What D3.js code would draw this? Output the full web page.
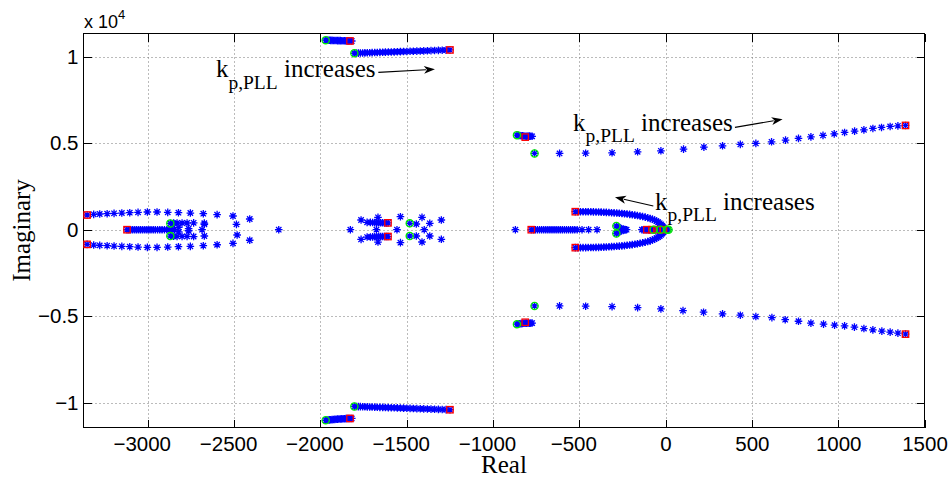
<!DOCTYPE html>
<html><head><meta charset="utf-8">
<script src="https://cdn.jsdelivr.net/npm/d3@7"></script>
<style>body{margin:0;background:#fff} svg{display:block}</style>
</head><body><svg id="chart" width="951" height="482"></svg>
<script>
// ---------- DATA (real, imaginary) ----------
const xTicks = [-3000,-2500,-2000,-1500,-1000,-500,0,500,1000,1500];
const yTicks = [-10000,-5000,0,5000,10000];
const yTickLabels = ["\u22121","\u22120.5","0","0.5","1"];

const blueTopCluster = [[-1969,10950],[-1962,10947],[-1955,10944],[-1948,10941],[-1940,10938],[-1932,10935],[-1924,10933],[-1916,10930],[-1908,10928],[-1900,10925],[-1892,10922],[-1884,10920],[-1876,10917],[-1868,10914],[-1860,10912],[-1852,10909],[-1844,10907],[-1836,10904],[-1828,10903],[-1818,10902]];
const blueBottomCluster = [[-1969,-11010],[-1962,-11002],[-1955,-10995],[-1948,-10988],[-1940,-10980],[-1932,-10972],[-1924,-10965],[-1916,-10958],[-1908,-10952],[-1900,-10946],[-1892,-10940],[-1884,-10934],[-1876,-10929],[-1868,-10924],[-1860,-10919],[-1852,-10915],[-1844,-10911],[-1836,-10908],[-1828,-10905],[-1818,-10903]];
const blueTopBranch = [[-1803,10194],[-1792,10198],[-1780,10202],[-1768,10206],[-1755,10210],[-1742,10215],[-1728,10220],[-1714,10225],[-1700,10229],[-1685,10234],[-1670,10240],[-1655,10245],[-1639,10250],[-1623,10256],[-1606,10262],[-1589,10267],[-1572,10273],[-1554,10279],[-1536,10286],[-1518,10292],[-1499,10298],[-1480,10305],[-1461,10311],[-1441,10318],[-1421,10325],[-1401,10332],[-1380,10339],[-1359,10346],[-1338,10354],[-1316,10361],[-1294,10369],[-1272,10376],[-1249,10384]];
const blueBottomBranch = [[-1803,-10211],[-1792,-10215],[-1780,-10219],[-1768,-10223],[-1755,-10227],[-1742,-10232],[-1728,-10237],[-1714,-10242],[-1700,-10246],[-1685,-10251],[-1670,-10257],[-1655,-10262],[-1639,-10267],[-1623,-10273],[-1606,-10279],[-1589,-10284],[-1572,-10290],[-1554,-10296],[-1536,-10303],[-1518,-10309],[-1499,-10315],[-1480,-10322],[-1461,-10328],[-1441,-10335],[-1421,-10342],[-1401,-10349],[-1380,-10356],[-1359,-10363],[-1338,-10371],[-1316,-10378],[-1294,-10386],[-1272,-10393],[-1249,-10401]];
const blueUpperKnot = [[-861,5463],[-853,5450],[-845,5440],[-837,5430],[-829,5420],[-821,5410],[-813,5400],[-805,5400],[-797,5405],[-789,5405],[-781,5400],[-773,5395]];
const blueLowerKnot = [[-861,-5458],[-853,-5447],[-845,-5437],[-837,-5428],[-829,-5418],[-821,-5408],[-813,-5398],[-805,-5398],[-797,-5402],[-789,-5402],[-781,-5398],[-773,-5393]];
const blueRightUpper = [[-759,4407],[-614,4407],[-463,4420],[-310,4442],[-162,4500],[-27,4558],[104,4655],[222,4771],[330,4846],[433,4927],[523,4985],[614,5077],[695,5175],[770,5273],[842,5365],[912,5446],[977,5538],[1037,5619],[1095,5694],[1149,5769],[1201,5850],[1251,5907],[1301,5965],[1346,6000],[1390,6023]];
const blueRightLower = [[-759,-4402],[-614,-4402],[-463,-4420],[-310,-4442],[-162,-4500],[-27,-4575],[101,-4673],[220,-4766],[330,-4863],[433,-4940],[523,-5018],[616,-5077],[693,-5200],[770,-5290],[842,-5400],[915,-5457],[979,-5515],[1037,-5555],[1094,-5630],[1149,-5711],[1201,-5786],[1253,-5861],[1301,-5918],[1346,-5976],[1390,-6034]];
const blueLeftOuterUpper = [[-3351,848],[-3313,887],[-3278,906],[-3235,925],[-3195,944],[-3150,963],[-3104,982],[-3056,1002],[-3002,1021],[-2946,1021],[-2884,1002],[-2822,982],[-2753,963],[-2678,925],[-2598,870],[-2506,790],[-2409,617]];
const blueLeftOuterLower = [[-3351,-848],[-3313,-887],[-3278,-906],[-3235,-925],[-3195,-944],[-3150,-963],[-3104,-982],[-3056,-1002],[-3002,-1021],[-2946,-1021],[-2884,-1002],[-2822,-982],[-2753,-963],[-2678,-925],[-2598,-870],[-2506,-790],[-2409,-611]];
const blueLeftAxis = [[-3120,0],[-3109,0],[-3098,0],[-3087,0],[-3075,0],[-3064,0],[-3052,0],[-3041,0],[-3029,0],[-3017,0],[-3005,0],[-2993,0],[-2981,0],[-2968,0],[-2956,0],[-2943,0],[-2930,0],[-2917,0],[-2903,0],[-2889,0],[-2875,0],[-2860,0],[-2845,0]];
const blueLeftInner = [[-2869,365],[-2850,380],[-2830,386],[-2801,386],[-2772,386],[-2734,395],[-2672,380],[-2672,310],[-2820,130],[-2763,60],[-2685,0],[-2763,-60],[-2820,-130],[-2672,-363],[-2734,-395],[-2772,-386],[-2801,-386],[-2830,-386],[-2850,-380],[-2869,-370],[-2486,310],[-2482,-306],[-2241,0]];
const blueMidUpper = [[-1764,560],[-1729,425],[-1710,420],[-1697,412],[-1685,408],[-1673,404],[-1662,401],[-1651,399],[-1640,397],[-1629,396],[-1618,395],[-1608,395],[-1666,714],[-1536,752],[-1482,367],[-1444,329],[-1411,714],[-1366,367],[-1299,560]];
const blueMidLower = [[-1764,-560],[-1729,-425],[-1710,-420],[-1697,-412],[-1685,-408],[-1673,-404],[-1662,-401],[-1651,-399],[-1640,-397],[-1629,-396],[-1618,-395],[-1608,-395],[-1666,-714],[-1536,-748],[-1482,-363],[-1444,-363],[-1411,-710],[-1366,-363],[-1299,-556]];
const blueMidAxis = [[-1826,0],[-1675,0],[-1556,0],[-1398,0]];
const blueRightAxis = [[-870,0],[-778,0],[-766,0],[-754,0],[-742,0],[-730,0],[-718,0],[-706,0],[-694,0],[-682,0],[-670,0],[-658,0],[-646,0],[-634,0],[-622,0],[-610,0],[-598,0],[-586,0],[-574,0],[-562,0],[-550,0],[-538,0],[-526,0],[-512,0],[-484,0],[-446,0],[-397,0]];
const blueRightNear = [[-285,220],[-276,160],[-268,110],[-258,70],[-246,40],[-236,15],[-285,-220],[-276,-160],[-268,-110],[-258,-70],[-246,-40],[-236,-15],[-226,0]];
const blueOrigin = [[-137,0],[-128,0],[-119,0],[-110,0],[-101,0],[-92,0],[-83,0],[-74,0],[-65,0],[-56,0],[-47,0],[-38,0],[-29,0],[-20,0],[-11,0],[-2,0],[8,0],[17,0]];
const blueArcUpper = [[-523,1040],[-508,1040],[-493,1039],[-478,1038],[-463,1037],[-448,1035],[-433,1033],[-418,1030],[-403,1026],[-388,1022],[-373,1015],[-358,1008],[-343,1000],[-328,992],[-313,983],[-298,973],[-283,962],[-268,950],[-253,937],[-238,922],[-223,905],[-208,886],[-193,865],[-178,842],[-163,817],[-148,790],[-133,760],[-118,726],[-103,688],[-89,646],[-76,600],[-64,550],[-53,495],[-43,435],[-34,370],[-26,300],[-19,225],[-13,150],[-7,75]];
const blueArcLower = [[-523,-1037],[-508,-1037],[-493,-1036],[-478,-1035],[-463,-1034],[-448,-1032],[-433,-1030],[-418,-1027],[-403,-1023],[-388,-1019],[-373,-1012],[-358,-1005],[-343,-997],[-328,-989],[-313,-980],[-298,-970],[-283,-959],[-268,-947],[-253,-934],[-238,-919],[-223,-902],[-208,-883],[-193,-862],[-178,-839],[-163,-814],[-148,-787],[-133,-757],[-118,-723],[-103,-685],[-89,-643],[-76,-597],[-64,-547],[-53,-492],[-43,-432],[-34,-367],[-26,-297],[-19,-222],[-13,-147],[-7,-72]];

const redStart = [[-1828,10903],[-1828,-10905],[-1249,10384],[-1249,-10401],[-813,5348],[-813,-5348],[1390,6023],[1390,-6034],[-3351,848],[-3351,-848],[-3120,0],[-1608,395],[-1608,-395],[-778,0],[-523,1040],[-523,-1037],[-108,0],[-79,0],[-50,0],[-12,0]];
const greenEnd = [[-1969,10950],[-1969,-11010],[-1803,10194],[-1803,-10211],[-861,5463],[-861,-5458],[-759,4407],[-759,-4402],[-2869,365],[-2869,-370],[-1482,367],[-1482,-363],[-285,220],[-285,-220],[-69,0],[-31,0],[8,0],[17,0]];

const annotations = [
  {kx:-2605, ky:8804, ax0:-1664, ay0:9093, ax1:-1336, ay1:9266},
  {kx:-536, ky:5702, ax0:402, ay0:5916, ax1:678, ay1:6378},
  {kx:-61, ky:1138, ax0:-71, ay0:1369, ax1:-293, ay1:1872}
];

// ---------- CHART ----------
const svg = d3.select("#chart");
const L=83.5, R=924.5, T=33.5, B=427.5;
const x = d3.scaleLinear().domain([-3372,1500]).range([L,R]);
const y = d3.scaleLinear().domain([-11427,11334]).range([B,T]);
const tickFont = "'Liberation Sans', Arial, Helvetica, sans-serif";
const serif = "'Liberation Serif', 'Times New Roman', Times, serif";

svg.append("rect").attr("width",951).attr("height",482).attr("fill","#fff");

// grid
const grid = svg.append("g").attr("stroke","#777").attr("stroke-width",1).attr("stroke-dasharray","1,3");
grid.selectAll("line.gx").data(xTicks.filter(v=>v<1500)).join("line")
  .attr("x1",d=>Math.round(x(d))+0.5).attr("x2",d=>Math.round(x(d))+0.5).attr("y1",T).attr("y2",B);
grid.selectAll("line.gy").data(yTicks).join("line").attr("class","gy")
  .attr("y1",d=>Math.round(y(d))+0.5).attr("y2",d=>Math.round(y(d))+0.5).attr("x1",L).attr("x2",R);

// axes
function styleAxis(g){ g.select(".domain").remove(); g.selectAll(".tick line").attr("stroke","#000"); }
const ax = svg.append("g").attr("transform",`translate(0,${B})`)
  .call(d3.axisBottom(x).tickValues(xTicks).tickSizeInner(-8).tickSizeOuter(0).tickPadding(9)
    .tickFormat(d=> d<0 ? "\u2212"+Math.abs(d) : String(d)));
styleAxis(ax);
ax.selectAll("text").attr("font-family",tickFont).attr("font-size","20.5px").attr("fill","#000")
  .attr("dx",d=> d<0 ? "-0.292em" : 0);
const axT = svg.append("g").attr("transform",`translate(0,${T})`)
  .call(d3.axisTop(x).tickValues(xTicks).tickSizeInner(-8).tickSizeOuter(0).tickFormat(""));
styleAxis(axT);
const ay = svg.append("g").attr("transform",`translate(${L},0)`)
  .call(d3.axisLeft(y).tickValues(yTicks).tickSizeInner(-8).tickSizeOuter(0).tickPadding(5)
    .tickFormat((d,i)=>yTickLabels[i]));
styleAxis(ay);
ay.selectAll("text").attr("font-family",tickFont).attr("font-size","20.5px").attr("fill","#000");
const ayR = svg.append("g").attr("transform",`translate(${R},0)`)
  .call(d3.axisRight(y).tickValues(yTicks).tickSizeInner(-8).tickSizeOuter(0).tickFormat(""));
styleAxis(ayR);
svg.selectAll(".tick line").attr("shape-rendering","crispEdges");

// box
svg.append("rect").attr("x",L).attr("y",T).attr("width",R-L).attr("height",B-T)
  .attr("fill","none").attr("stroke","#000").attr("stroke-width",1).attr("shape-rendering","crispEdges");

// markers
const s=3.8, dd=2.7;
const starPath = `M${-s},0H${s}M0,${-s}V${s}M${-dd},${-dd}L${dd},${dd}M${-dd},${dd}L${dd},${-dd}`;
const blues = [blueTopCluster,blueBottomCluster,blueTopBranch,blueBottomBranch,blueUpperKnot,blueLowerKnot,
  blueRightUpper,blueRightLower,blueLeftOuterUpper,blueLeftOuterLower,blueLeftAxis,blueLeftInner,
  blueMidUpper,blueMidLower,blueMidAxis,blueRightAxis,blueRightNear,blueOrigin,blueArcUpper,blueArcLower];
const plot = svg.append("g");
blues.forEach(arr=>{
  plot.append("g").selectAll("path").data(arr).join("path")
    .attr("transform",d=>`translate(${x(d[0])},${y(d[1])})`)
    .attr("d",starPath).attr("stroke","#0000ff").attr("stroke-width",1.3).attr("fill","none");
});
plot.append("g").selectAll("rect").data(redStart).join("rect")
  .attr("x",d=>x(d[0])-3.2).attr("y",d=>y(d[1])-3.2).attr("width",6.4).attr("height",6.4)
  .attr("fill","none").attr("stroke","#ff0000").attr("stroke-width",1.3);
plot.append("g").selectAll("circle").data(greenEnd).join("circle")
  .attr("cx",d=>x(d[0])).attr("cy",d=>y(d[1])).attr("r",3.6)
  .attr("fill","none").attr("stroke","#00ee00").attr("stroke-width",1.3);

// annotations
annotations.forEach(a=>{
  const t = svg.append("text").attr("x",x(a.kx)).attr("y",y(a.ky))
    .attr("font-family",serif).attr("font-size","25px").attr("fill","#000");
  t.append("tspan").text("k");
  t.append("tspan").attr("font-size","19.5px").attr("dy",11.5).text("p,PLL");
  t.append("tspan").attr("dy",-11.5).text("\u00a0increases");
  const x0=x(a.ax0), y0=y(a.ay0), x1=x(a.ax1), y1=y(a.ay1);
  const ang = Math.atan2(y1-y0, x1-x0);
  const hl=11, hw=4;
  const bx = x1 - hl*Math.cos(ang), by = y1 - hl*Math.sin(ang);
  svg.append("line").attr("x1",x0).attr("y1",y0).attr("x2",bx+2*Math.cos(ang)).attr("y2",by+2*Math.sin(ang))
    .attr("stroke","#000").attr("stroke-width",1.2);
  const nx = -Math.sin(ang), ny = Math.cos(ang);
  const notchx = x1 - (hl-3)*Math.cos(ang), notchy = y1 - (hl-3)*Math.sin(ang);
  svg.append("path").attr("d",`M${x1},${y1}L${bx+hw*nx},${by+hw*ny}L${notchx},${notchy}L${bx-hw*nx},${by-hw*ny}Z`)
    .attr("fill","#000");
});

// labels
svg.append("text").attr("x",(L+R)/2).attr("y",472.5).attr("text-anchor","middle")
  .attr("font-family",serif).attr("font-size","25px").text("Real");
svg.append("text").attr("transform",`translate(29.5,${(T+B)/2}) rotate(-90)`).attr("text-anchor","middle")
  .attr("font-family",serif).attr("font-size","25px").text("Imaginary");
const ex = svg.append("text").attr("x",84).attr("y",28.3).attr("font-family",tickFont).attr("font-size","18px");
ex.append("tspan").text("x 10");
ex.append("tspan").attr("font-size","13px").attr("dy",-9).text("4");
</script></body></html>
